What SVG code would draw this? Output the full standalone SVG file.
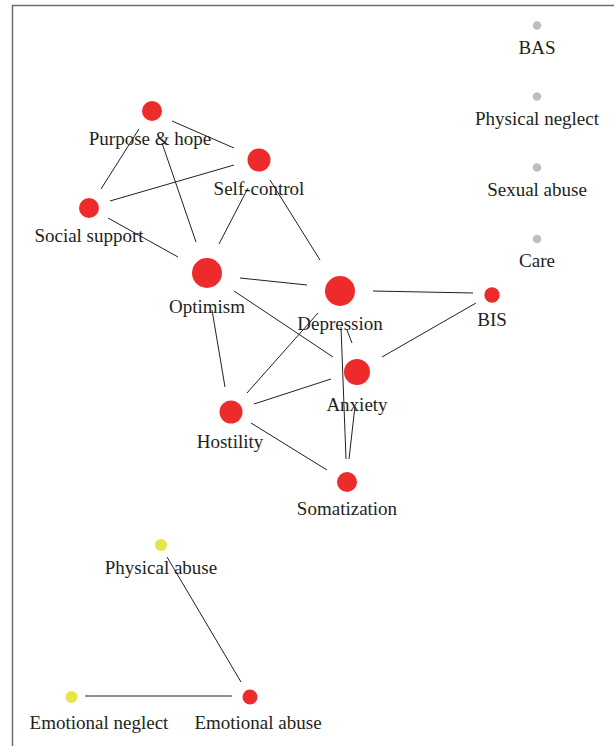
<svg xmlns="http://www.w3.org/2000/svg" width="614" height="746" viewBox="0 0 614 746">
<style>
.frame{fill:none;stroke:#6d6e70;stroke-width:1.5}
.edge{stroke:#231f20;stroke-width:1;fill:none}
.red{fill:#ee2b2b}
.yel{fill:#e6e547}
.gry{fill:#bcbec0}
text{font-family:"Liberation Serif","Times New Roman",serif;font-size:19px;fill:#231f20;text-anchor:middle}
</style>
<rect width="614" height="746" fill="#ffffff"/>
<path class="frame" d="M12.5,746 V5.5 H614"/>
<g id="connectors">
<line class="edge" x1="172" y1="121" x2="234" y2="148"/>
<line class="edge" x1="139" y1="129" x2="101" y2="189"/>
<line class="edge" x1="162" y1="143" x2="196" y2="242"/>
<line class="edge" x1="110" y1="201" x2="234" y2="165"/>
<line class="edge" x1="108" y1="218" x2="178" y2="257"/>
<line class="edge" x1="248" y1="188" x2="219" y2="244"/>
<line class="edge" x1="270" y1="180" x2="320" y2="260"/>
<line class="edge" x1="240" y1="278" x2="307" y2="285"/>
<line class="edge" x1="234" y1="291" x2="333" y2="357"/>
<line class="edge" x1="212" y1="310" x2="225" y2="387"/>
<line class="edge" x1="318" y1="313" x2="247" y2="393"/>
<line class="edge" x1="373" y1="291" x2="473" y2="293"/>
<line class="edge" x1="476" y1="303" x2="382" y2="357"/>
<line class="edge" x1="347" y1="330" x2="352" y2="343"/>
<line class="edge" x1="341" y1="327" x2="346" y2="459"/>
<line class="edge" x1="355" y1="406" x2="349" y2="459"/>
<line class="edge" x1="254" y1="404" x2="331" y2="379"/>
<line class="edge" x1="251" y1="423" x2="327" y2="470"/>
<line class="edge" x1="167" y1="557" x2="241" y2="682"/>
<line class="edge" x1="85" y1="696" x2="232" y2="696"/>
</g>
<g id="purpose-hope"><circle class="red" cx="152" cy="111" r="10"/><text x="150" y="145">Purpose &amp; hope</text></g>
<g id="self-control"><circle class="red" cx="259" cy="160" r="11.5"/><text x="259" y="195">Self-control</text></g>
<g id="social-support"><circle class="red" cx="89" cy="208" r="10"/><text x="89" y="242">Social support</text></g>
<g id="optimism"><circle class="red" cx="207" cy="273" r="15"/><text x="207" y="313">Optimism</text></g>
<g id="depression"><circle class="red" cx="340" cy="291" r="15"/><text x="340" y="330">Depression</text></g>
<g id="bis"><circle class="red" cx="492" cy="295" r="7.7"/><text x="492" y="326">BIS</text></g>
<g id="anxiety"><circle class="red" cx="357" cy="372" r="13"/><text x="357" y="411">Anxiety</text></g>
<g id="hostility"><circle class="red" cx="231" cy="412" r="11.5"/><text x="230" y="448">Hostility</text></g>
<g id="somatization"><circle class="red" cx="347" cy="482" r="10"/><text x="347" y="515">Somatization</text></g>
<g id="physical-abuse"><circle class="yel" cx="161" cy="545" r="6"/><text x="161" y="574">Physical abuse</text></g>
<g id="emotional-neglect"><circle class="yel" cx="71.5" cy="697" r="6"/><text x="99" y="729">Emotional neglect</text></g>
<g id="emotional-abuse"><circle class="red" cx="250" cy="697" r="7.5"/><text x="258" y="729">Emotional abuse</text></g>
<g id="bas"><circle class="gry" cx="537" cy="25.5" r="4.3"/><text x="537" y="54">BAS</text></g>
<g id="physical-neglect"><circle class="gry" cx="537" cy="96.5" r="4.3"/><text x="537" y="125">Physical neglect</text></g>
<g id="sexual-abuse"><circle class="gry" cx="537" cy="167.5" r="4.3"/><text x="537" y="196">Sexual abuse</text></g>
<g id="care"><circle class="gry" cx="537" cy="239" r="4.3"/><text x="537" y="267">Care</text></g>
</svg>
